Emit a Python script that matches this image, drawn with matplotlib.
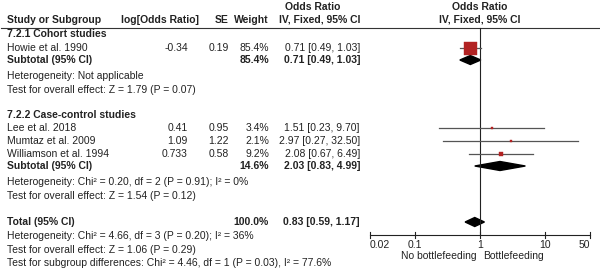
import numpy as np
import matplotlib.pyplot as plt
from matplotlib.patches import Polygon

plt.rcParams['font.family'] = ['Liberation Sans', 'DejaVu Sans']

# ---------------- data ----------------
studies = ['Howie et al. 1990', 'Lee et al. 2018', 'Mumtaz et al. 2009', 'Williamson et al. 1994']
log_or = ['-0.34', '0.41', '1.09', '0.733']
se = ['0.19', '0.95', '1.22', '0.58']
weights = [85.4, 3.4, 2.1, 9.2]
or_est = [0.71, 1.51, 2.97, 2.08]
ci_lo = [0.49, 0.23, 0.27, 0.67]
ci_hi = [1.03, 9.70, 32.50, 6.49]

# subtotals / total: label, weight, estimate, lo, hi
pooled_names = ['Subtotal (95% CI)', 'Subtotal (95% CI)', 'Total (95% CI)']
pooled_w = [85.4, 14.6, 100.0]
pooled_est = [0.71, 2.03, 0.83]
pooled_lo = [0.49, 0.83, 0.59]
pooled_hi = [1.03, 4.99, 1.17]

ticks = [0.02, 0.1, 1, 10, 50]
tick_labels = ['0.02', '0.1', '1', '10', '50']

# row positions in pixels (from top)
study_y = [48, 128, 141, 154]
pooled_y = [60, 166, 222]

fs = 7.5
txt = '#222222'

fig = plt.figure(figsize=(6, 2.69), dpi=100)
ax = fig.add_axes([0, 0, 1, 1])
ax.set_xlim(0, 600)
ax.set_ylim(269, 0)
ax.axis('off')

# headers
ax.text(313, 7, 'Odds Ratio', fontsize=fs, weight='bold', ha='center', va='center', color=txt)
ax.text(480, 7, 'Odds Ratio', fontsize=fs, weight='bold', ha='center', va='center', color=txt)
ax.text(7, 20, 'Study or Subgroup', fontsize=fs, weight='bold', va='center', color=txt)
ax.text(199, 20, 'log[Odds Ratio]', fontsize=fs, weight='bold', ha='right', va='center', color=txt)
ax.text(229, 20, 'SE', fontsize=fs, weight='bold', ha='right', va='center', color=txt)
ax.text(269, 20, 'Weight', fontsize=fs, weight='bold', ha='right', va='center', color=txt)
ax.text(320, 20, 'IV, Fixed, 95% CI', fontsize=fs, weight='bold', ha='center', va='center', color=txt)
ax.text(480, 20, 'IV, Fixed, 95% CI', fontsize=fs, weight='bold', ha='center', va='center', color=txt)
ax.plot([1, 599], [27.5, 27.5], color='#333333', lw=0.8)

# group titles
ax.text(7, 34, '7.2.1 Cohort studies', fontsize=fs, weight='bold', va='center', color=txt)
ax.text(7, 115, '7.2.2 Case-control studies', fontsize=fs, weight='bold', va='center', color=txt)

# study rows
for i in range(len(studies)):
    y = study_y[i]
    ax.text(7, y, studies[i], fontsize=fs, va='center', color=txt)
    ax.text(188, y, log_or[i], fontsize=fs, ha='right', va='center', color=txt)
    ax.text(229, y, se[i], fontsize=fs, ha='right', va='center', color=txt)
    ax.text(269, y, f'{weights[i]:.1f}%', fontsize=fs, ha='right', va='center', color=txt)
    ax.text(360, y, f'{or_est[i]:.2f} [{ci_lo[i]:.2f}, {ci_hi[i]:.2f}]', fontsize=fs,
            ha='right', va='center', color=txt)

# pooled rows
for i in range(3):
    y = pooled_y[i]
    ax.text(7, y, pooled_names[i], fontsize=fs, weight='bold', va='center', color=txt)
    ax.text(269, y, f'{pooled_w[i]:.1f}%', fontsize=fs, weight='bold', ha='right', va='center', color=txt)
    ax.text(360, y, f'{pooled_est[i]:.2f} [{pooled_lo[i]:.2f}, {pooled_hi[i]:.2f}]', fontsize=fs,
            weight='bold', ha='right', va='center', color=txt)

notes = [
    (76, 'Heterogeneity: Not applicable'),
    (90, 'Test for overall effect: Z = 1.79 (P = 0.07)'),
    (182, 'Heterogeneity: Chi² = 0.20, df = 2 (P = 0.91); I² = 0%'),
    (196, 'Test for overall effect: Z = 1.54 (P = 0.12)'),
    (236, 'Heterogeneity: Chi² = 4.66, df = 3 (P = 0.20); I² = 36%'),
    (250, 'Test for overall effect: Z = 1.06 (P = 0.29)'),
    (263, 'Test for subgroup differences: Chi² = 4.46, df = 1 (P = 0.03), I² = 77.6%'),
]
for y, s in notes:
    ax.text(7, y, s, fontsize=fs, va='center', color=txt)

# ---------------- forest panel ----------------
left_px = 480 - 65 * np.log10(50)
right_px = 480 + 65 * np.log10(50)
fx = fig.add_axes([left_px / 600, 0, (right_px - left_px) / 600, 1])
fx.set_xscale('log')
fx.set_xlim(0.02, 50)
fx.set_ylim(269, 0)
fx.axis('off')

fx.plot([1, 1], [27.5, 235], color='#222222', lw=0.8, clip_on=False)
axis_y = 235
fx.plot([0.02, 50], [axis_y, axis_y], color='#222222', lw=0.8, clip_on=False)
for t, lab in zip(ticks, tick_labels):
    fx.plot([t, t], [axis_y - 3, axis_y + 3], color='#222222', lw=0.8, clip_on=False)
    ha = 'center'
    if t == ticks[0]:
        ha = 'left'
    elif t == ticks[-1]:
        ha = 'right'
    fx.text(t, 245, lab, fontsize=fs, ha=ha, va='center', color=txt)
fx.text(0.88, 256, 'No bottlefeeding', fontsize=fs, ha='right', va='center', color=txt)
fx.text(1.12, 256, 'Bottlefeeding', fontsize=fs, ha='left', va='center', color=txt)

for i in range(len(studies)):
    y = study_y[i]
    fx.plot([ci_lo[i], ci_hi[i]], [y, y], color='#555555', lw=0.9, clip_on=False)
    side = 13 * np.sqrt(weights[i] / 85.4)
    fx.plot(or_est[i], y, marker='s', ms=side * 0.72, color='#B22222', mec='#B22222',
            mew=0.3, clip_on=False)

for i in range(3):
    y = pooled_y[i]
    h = 4.5
    poly = Polygon([(pooled_lo[i], y), (pooled_est[i], y - h), (pooled_hi[i], y),
                    (pooled_est[i], y + h)], closed=True, color='black', clip_on=False)
    fx.add_patch(poly)

fig.savefig('out.png', dpi=100)
